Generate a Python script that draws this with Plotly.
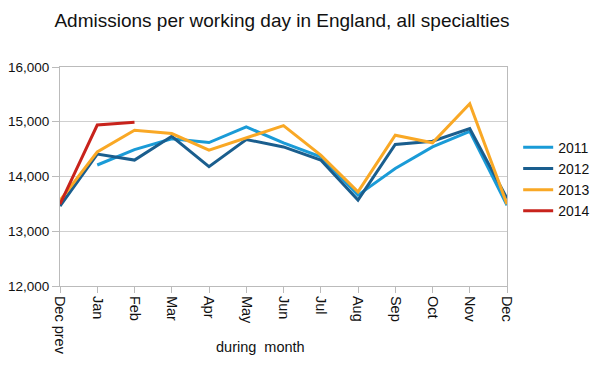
import plotly.graph_objects as go

months = ["Dec prev", "Jan", "Feb", "Mar", "Apr", "May", "Jun", "Jul", "Aug", "Sep", "Oct", "Nov", "Dec"]
y2011 = [None, 14210, 14490, 14690, 14620, 14905, 14615, 14360, 13660, 14145, 14540, 14825, 13475]
y2012 = [13460, 14410, 14300, 14735, 14180, 14675, 14540, 14300, 13570, 14585, 14645, 14875, 13600]
y2013 = [13560, 14450, 14845, 14785, 14480, 14710, 14930, 14390, 13720, 14755, 14615, 15330, 13495]
y2014 = [13495, 14940, 14990]
series = [("2011", y2011, "#1a9bd7"), ("2012", y2012, "#1a5e8e"),
          ("2013", y2013, "#f9a825"), ("2014", y2014, "#c8231c")]
yticks = [12000, 13000, 14000, 15000, 16000]

fig = go.Figure()
for name, vals, col in series:
    fig.add_trace(go.Scatter(x=months[:len(vals)], y=vals, name=name, mode="lines",
                             line=dict(color=col, width=3)))

# page body has an 8px margin, so positions are shifted to compensate
fig.update_layout(
    width=599, height=365,
    margin=dict(l=52, r=96, t=59, b=87),
    paper_bgcolor="white", plot_bgcolor="white",
    font=dict(family="Liberation Sans, Arial, sans-serif", color="#111", size=12),
    title=dict(text="Admissions per working day in England, all specialties",
               x=274/599, xanchor="center", y=1-12/365, yanchor="middle",
               font=dict(size=19, color="#111")),
    legend=dict(x=1.025, xanchor="left", y=0.488, yanchor="middle",
                font=dict(size=14), bgcolor="rgba(0,0,0,0)"),
    showlegend=True,
)
fig.update_xaxes(type="category", categoryorder="array", categoryarray=months,
                 range=[0, 12], tickangle=90, ticks="outside", ticklen=6,
                 tickcolor="#bbb", showline=True, linecolor="#bbb", mirror=True,
                 showgrid=False, tickfont=dict(size=14.5), automargin=False)
fig.update_yaxes(range=[12000, 16000], tickvals=yticks, tickformat=",d",
                 ticks="outside", ticklen=7, tickcolor="#bbb",
                 showline=True, linecolor="#bbb", mirror=True,
                 gridcolor="#cfcfcf", gridwidth=1, tickfont=dict(size=13.5),
                 automargin=False)
fig.add_annotation(text="during\u00a0 month", xref="paper", yref="paper",
                   x=(254-52)/451, y=-(339-278)/219, xanchor="center", yanchor="middle",
                   showarrow=False, font=dict(size=14.5))
fig.write_html("out.html")
